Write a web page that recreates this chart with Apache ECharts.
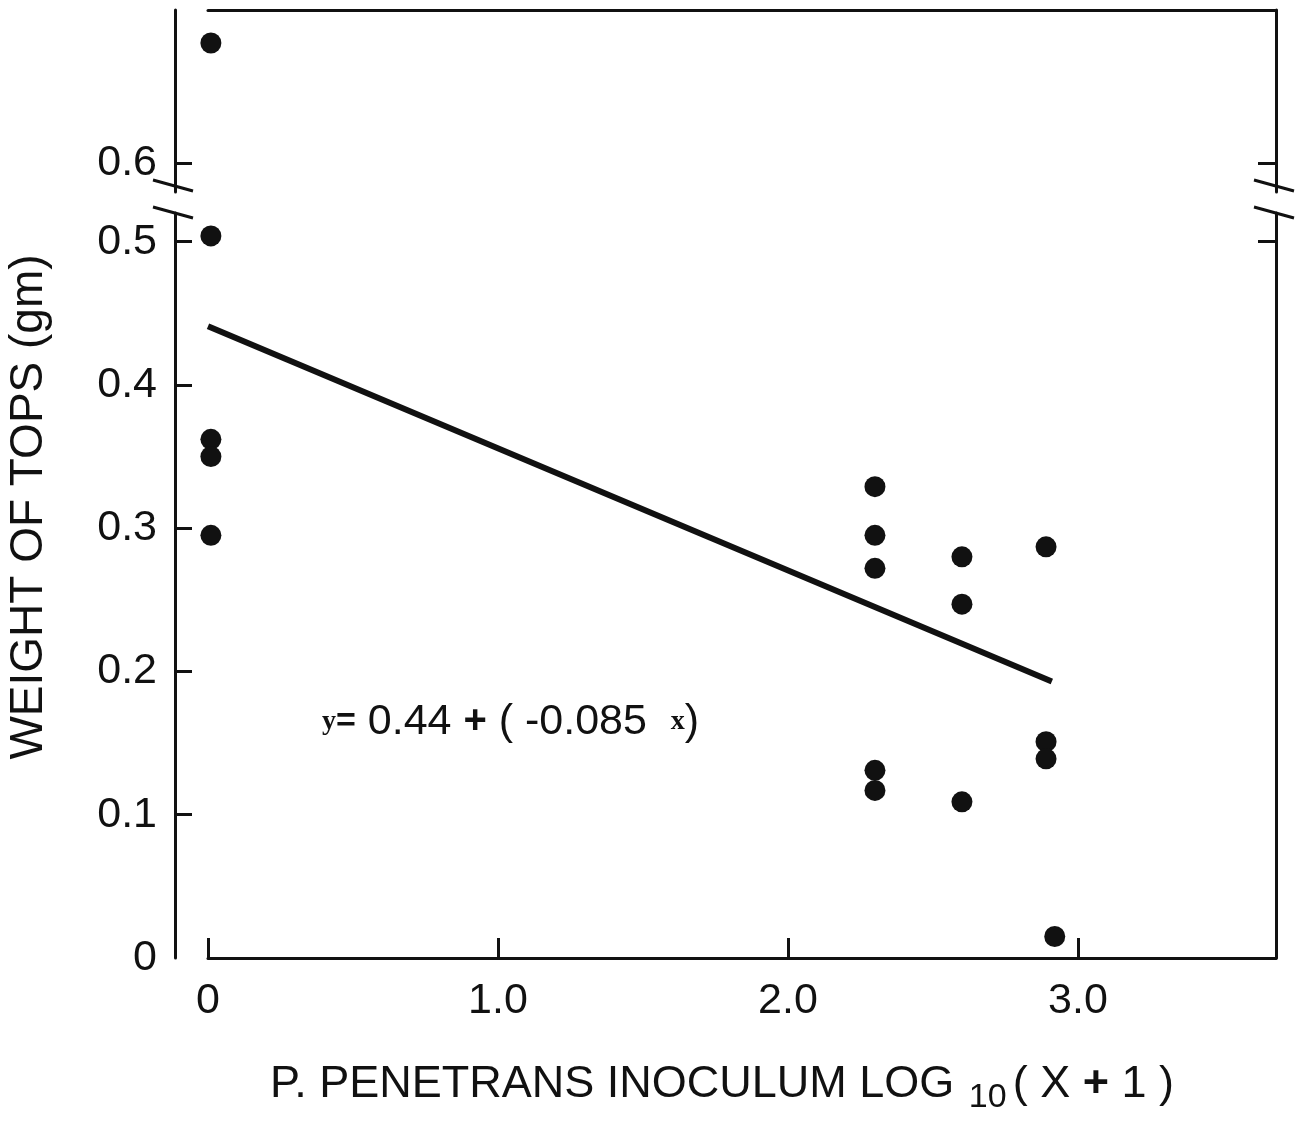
<!DOCTYPE html>
<html><head><meta charset="utf-8">
<script src="https://cdn.jsdelivr.net/npm/echarts@6/dist/echarts.min.js"></script>
<style>html,body{margin:0;padding:0;background:#fff}#c{width:1304px;height:1131px}</style>
</head><body><div id="c"></div>
<script>
// ---- data ----
const xTicks = [0, 1, 2, 3];
const yTicksLower = [0, 0.1, 0.2, 0.3, 0.4, 0.5];
const yTicksUpper = [0.6];
const pointsLower = [
  [0.01, 0.504], [0.01, 0.362], [0.01, 0.350], [0.01, 0.295],
  [2.30, 0.329], [2.30, 0.295], [2.30, 0.272], [2.30, 0.131], [2.30, 0.117],
  [2.60, 0.280], [2.60, 0.247], [2.60, 0.109],
  [2.89, 0.287], [2.89, 0.151], [2.89, 0.139],
  [2.92, 0.015]
];
const pointsUpper = [[0.01, 0.684]];
const fitLine = [[0, 0.441], [2.91, 0.193]];
const yTitle = 'WEIGHT OF TOPS (gm)';
const xTitleMain = 'P. PENETRANS INOCULUM LOG ';
const xTitleSub = '10';
const xTitleEnd = ['( X ', '+', ' 1 )'];

// ---- style ----
const INK = '#111';
const FONT = "'Liberation Sans', Arial, Helvetica, sans-serif";
const W = 1304, H = 1131;
const gLeft = 208, gRight = 28;
const axisOffset = 33;
const lowTop = 213, lowH = 745;
const upTop = 10, upH = 182;

function fmt(v) { return v === 0 ? '0' : v.toFixed(1); }

const axisLine = { show: true, onZero: false, lineStyle: { color: INK, width: 3 } };
const labelStyle = { color: INK, fontSize: 43, fontFamily: FONT, formatter: fmt };

const chart = echarts.init(document.getElementById('c'), null, { renderer: 'canvas' });

const leftX = gLeft - axisOffset;
const rightX = W - gRight;
function breakMarks(ax) {
  return [
    { type: 'line', shape: { x1: ax - 22, y1: 180, x2: ax + 18, y2: 191 }, style: { stroke: INK, lineWidth: 3 } },
    { type: 'line', shape: { x1: ax - 22, y1: 207, x2: ax + 18, y2: 218 }, style: { stroke: INK, lineWidth: 3 } }
  ];
}

chart.setOption({
  animation: false,
  backgroundColor: '#fff',
  grid: [
    { left: gLeft, right: gRight, top: lowTop, height: lowH },
    { left: gLeft, right: gRight, top: upTop, height: upH }
  ],
  xAxis: [
    {
      type: 'value', gridIndex: 0, min: 0, max: 3.683, position: 'bottom',
      axisLine: axisLine,
      axisTick: { show: true, inside: true, length: 20, customValues: xTicks, lineStyle: { color: INK, width: 3 } },
      axisLabel: Object.assign({}, labelStyle, { margin: 22, customValues: xTicks }),
      splitLine: { show: false }
    },
    {
      type: 'value', gridIndex: 1, min: 0, max: 3.683, position: 'top',
      axisLine: axisLine,
      axisTick: { show: false }, axisLabel: { show: false }, splitLine: { show: false }
    }
  ],
  yAxis: [
    {
      type: 'value', gridIndex: 0, min: 0, max: 0.52, position: 'left', offset: axisOffset,
      axisLine: axisLine,
      axisTick: { show: true, inside: true, length: 17, customValues: [0.1, 0.2, 0.3, 0.4, 0.5], lineStyle: { color: INK, width: 3 } },
      axisLabel: Object.assign({}, labelStyle, { margin: 18, customValues: yTicksLower }),
      splitLine: { show: false }
    },
    {
      type: 'value', gridIndex: 0, min: 0, max: 0.52, position: 'right',
      axisLine: axisLine,
      axisTick: { show: true, inside: true, length: 18, customValues: [0.5], lineStyle: { color: INK, width: 3 } },
      axisLabel: { show: false }, splitLine: { show: false }
    },
    {
      type: 'value', gridIndex: 1, min: 0.58, max: 0.707, position: 'left', offset: axisOffset,
      axisLine: axisLine,
      axisTick: { show: true, inside: true, length: 17, customValues: yTicksUpper, lineStyle: { color: INK, width: 3 } },
      axisLabel: Object.assign({}, labelStyle, { margin: 18, customValues: yTicksUpper }),
      splitLine: { show: false }
    },
    {
      type: 'value', gridIndex: 1, min: 0.58, max: 0.707, position: 'right',
      axisLine: axisLine,
      axisTick: { show: true, inside: true, length: 18, customValues: yTicksUpper, lineStyle: { color: INK, width: 3 } },
      axisLabel: { show: false }, splitLine: { show: false }
    }
  ],
  series: [
    {
      type: 'line', xAxisIndex: 0, yAxisIndex: 0, data: fitLine, symbol: 'none',
      lineStyle: { color: INK, width: 6 }, z: 2
    },
    {
      type: 'scatter', xAxisIndex: 0, yAxisIndex: 0, data: pointsLower,
      symbolSize: 21, itemStyle: { color: INK, opacity: 1 }, z: 3
    },
    {
      type: 'scatter', xAxisIndex: 1, yAxisIndex: 2, data: pointsUpper,
      symbolSize: 21, itemStyle: { color: INK, opacity: 1 }, z: 3
    }
  ],
  graphic: [
    {
      type: 'text', x: 29, y: 507, rotation: Math.PI / 2,
      style: {
        text: yTitle, fill: INK, fontSize: 46, fontFamily: FONT,
        align: 'center', verticalAlign: 'middle', textAlign: 'center', textVerticalAlign: 'middle'
      }
    },
    {
      type: 'text', x: 722, y: 1085,
      style: {
        text: '{a|' + xTitleMain + '}{s|' + xTitleSub + '}{a|' + xTitleEnd[0] + '}{p|' + xTitleEnd[1] + '}{a|' + xTitleEnd[2] + '}',
        fill: INK, align: 'center', verticalAlign: 'middle', textAlign: 'center', textVerticalAlign: 'middle',
        rich: {
          a: { fontSize: 45, fontFamily: FONT, lineHeight: 60, fill: INK, color: INK },
          p: { fontSize: 45, fontFamily: FONT, fontWeight: 'bold', lineHeight: 60, fill: INK, color: INK },
          s: { fontSize: 34, fontFamily: FONT, lineHeight: 32, verticalAlign: 'bottom', fill: INK, color: INK, padding: [0, 6, 0, 2] }
        }
      }
    },
    {
      type: 'text', x: 322, y: 722,
      style: {
        text: '{v|y}{b|=}{n| 0.44 }{p|+}{n| ( -0.085  }{v|x}{n|)}',
        fill: INK, align: 'left', verticalAlign: 'middle', textAlign: 'left', textVerticalAlign: 'middle',
        rich: {
          v: { fontSize: 28, fontFamily: "'Liberation Serif', 'DejaVu Serif', serif", fontWeight: 'bold', fill: INK, color: INK, lineHeight: 50 },
          b: { fontSize: 34, fontFamily: FONT, fontWeight: 'bold', fill: INK, color: INK, lineHeight: 50 },
          p: { fontSize: 40, fontFamily: FONT, fontWeight: 'bold', fill: INK, color: INK, lineHeight: 50 },
          n: { fontSize: 43, fontFamily: FONT, fill: INK, color: INK, lineHeight: 50 }
        }
      }
    }
  ].concat(breakMarks(leftX), breakMarks(rightX))
});
</script>
</body></html>
